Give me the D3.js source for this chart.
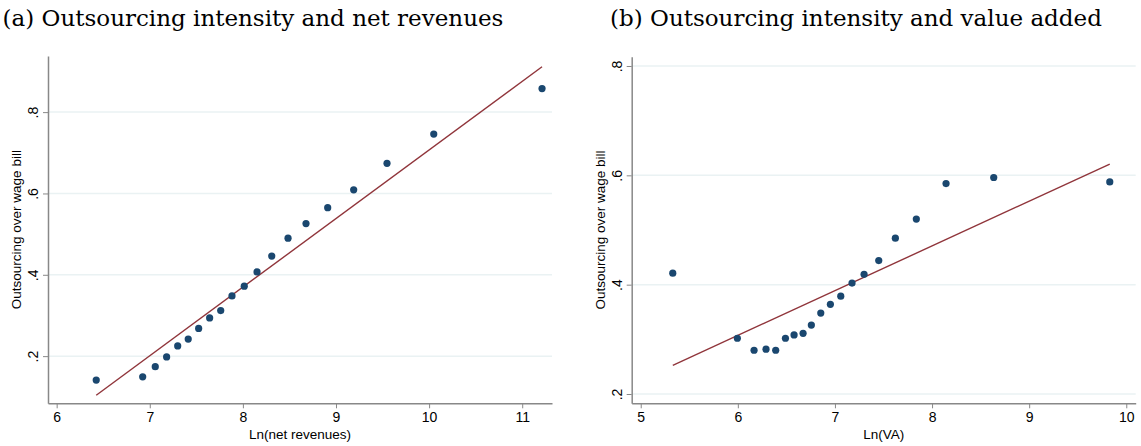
<!DOCTYPE html>
<html>
<head>
<meta charset="utf-8">
<script src="https://cdn.jsdelivr.net/npm/d3@7"></script>
<style>
  body { margin: 0; background: #fff; }
  .tick text { font-family: "Liberation Sans", Arial, sans-serif; font-size: 14px; fill: #000; }
  .axis path, .axis line { stroke: #888; }
  .title { font-family: "DejaVu Serif", serif; font-size: 23px; }
  .axislabel { font-family: "Liberation Sans", Arial, sans-serif; font-size: 13.5px; }
</style>
</head>
<body>
<svg class="chart" width="1141" height="446"></svg>
<script>
// binned scatter values
var lnRevenue = [6.425, 6.924, 7.059, 7.181, 7.30, 7.413, 7.525, 7.643, 7.762, 7.883, 8.015, 8.152, 8.31, 8.485, 8.678, 8.911, 9.19, 9.548, 10.05, 11.213];
var shareA    = [0.141, 0.149, 0.174, 0.198, 0.225, 0.242, 0.268, 0.294, 0.312, 0.348, 0.372, 0.407, 0.446, 0.490, 0.526, 0.565, 0.609, 0.674, 0.746, 0.858];
var lnVA      = [5.33, 5.995, 6.167, 6.29, 6.39, 6.49, 6.579, 6.672, 6.757, 6.854, 6.953, 7.06, 7.176, 7.30, 7.451, 7.622, 7.838, 8.144, 8.635, 9.83];
var shareB    = [0.421, 0.302, 0.280, 0.282, 0.280, 0.302, 0.308, 0.311, 0.326, 0.348, 0.364, 0.379, 0.403, 0.419, 0.444, 0.485, 0.520, 0.585, 0.596, 0.588];
// fitted lines: [intercept, slope]
var fitA = [-0.980, 0.1687];
var fitB = [-0.1835, 0.0818];
var xTicksA = [6, 7, 8, 9, 10, 11];
var xTicksB = [5, 6, 7, 8, 9, 10];
var yTicks  = [0.2, 0.4, 0.6, 0.8];
var titles  = ["(a) Outsourcing intensity and net revenues", "(b) Outsourcing intensity and value added"];
var xLabels = ["Ln(net revenues)", "Ln(VA)"];
var yLabel  = "Outsourcing over wage bill";

var svg = d3.select(".chart");

var panels = [
  {x: lnRevenue, y: shareA, fit: fitA, xt: xTicksA, xdom: [5.907, 11.32], ydom: [0.084, 0.938],
   left: 48, right: 552, top: 56, bottom: 403.3, title: titles[0], xl: xLabels[0], tx: 253},
  {x: lnVA, y: shareB, fit: fitB, xt: xTicksB, xdom: [4.907, 10.097], ydom: [0.183, 0.817],
   left: 631.7, right: 1135.7, top: 56.7, bottom: 403.3, title: titles[1], xl: xLabels[1], tx: 856}
];

var fmt = function(d){ return String(d).replace(/^0\./, "."); };

panels.forEach(function(p){
  var x = d3.scaleLinear().domain(p.xdom).range([p.left, p.right]);
  var y = d3.scaleLinear().domain(p.ydom).range([p.bottom, p.top]);
  var g = svg.append("g");

  // grid
  g.selectAll(".grid").data(yTicks).enter().append("line")
    .attr("x1", p.left).attr("x2", p.right)
    .attr("y1", function(d){ return y(d); }).attr("y2", function(d){ return y(d); })
    .attr("stroke", "#eaf2f3").attr("stroke-width", 1.5);

  var xaxis = g.append("g").attr("class", "axis")
    .attr("transform", "translate(0," + p.bottom + ")")
    .call(d3.axisBottom(x).tickValues(p.xt).tickFormat(d3.format("d")).tickSize(5).tickSizeOuter(0).tickPadding(4));
  xaxis.select(".domain").attr("stroke", "#666").attr("stroke-width", 1.5);

  var yaxis = g.append("g").attr("class", "axis")
    .attr("transform", "translate(" + p.left + ",0)")
    .call(d3.axisLeft(y).tickValues(yTicks).tickFormat(fmt).tickSize(5).tickSizeOuter(0));
  yaxis.select(".domain").attr("stroke", "#999").attr("stroke-width", 1.5);
  yaxis.selectAll(".tick text")
    .attr("x", null).attr("dy", null)
    .attr("transform", "translate(-10,0) rotate(-90)")
    .style("text-anchor", "middle");

  // fitted line
  var x0 = d3.min(p.x), x1 = d3.max(p.x);
  g.append("line")
    .attr("x1", x(x0)).attr("y1", y(p.fit[0] + p.fit[1] * x0))
    .attr("x2", x(x1)).attr("y2", y(p.fit[0] + p.fit[1] * x1))
    .attr("stroke", "#90353b").attr("stroke-width", 1.4);

  // points
  g.selectAll(".pt").data(p.x).enter().append("circle")
    .attr("cx", function(d){ return x(d); })
    .attr("cy", function(d, i){ return y(p.y[i]); })
    .attr("r", 3.6)
    .attr("fill", "#1a476f");

  g.append("text").attr("class", "title")
    .attr("x", p.tx).attr("y", 26).attr("text-anchor", "middle").text(p.title);
  g.append("text").attr("class", "axislabel")
    .attr("x", (p.left + p.right) / 2).attr("y", 439).attr("text-anchor", "middle").text(p.xl);
  g.append("text").attr("class", "axislabel")
    .attr("transform", "translate(" + (p.left - 27) + "," + ((p.top + p.bottom) / 2) + ") rotate(-90)")
    .attr("text-anchor", "middle").text(yLabel);
});
</script>
</body>
</html>
